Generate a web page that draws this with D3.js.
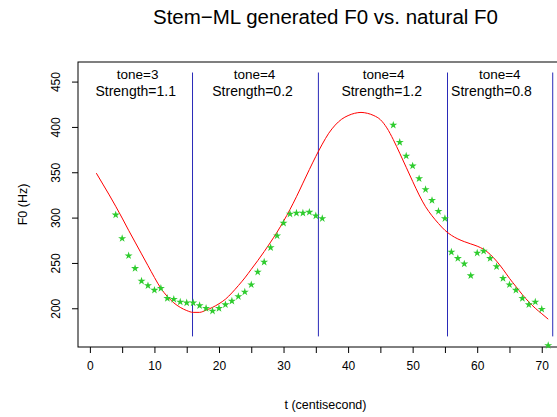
<!DOCTYPE html>
<html>
<head>
<meta charset="utf-8">
<script src="https://cdn.jsdelivr.net/npm/d3@7"></script>
<style>
    body { margin: 0; background: #fff; }
    svg { display: block; font-family: "Liberation Sans", Arial, sans-serif; }
</style>
</head>
<body>
<svg id="chart" width="557" height="417"></svg>
<script>
// natural F0 (green stars)
var naturalT = [4, 5, 6, 7, 8, 9, 10, 11, 12, 13, 14, 15, 16, 17, 18, 19, 20, 21, 22, 23, 24, 25, 26, 27, 28, 29, 30, 31, 32, 33, 34, 35, 36,
    47, 48, 49, 50, 51, 52, 53, 54, 55, 56, 57, 58, 59, 60, 61, 62, 63, 64, 65, 66, 67, 68, 69, 70, 71];
var naturalF0 = [303, 277, 258, 244, 230, 225, 220, 222, 211, 210, 207, 206, 206, 203, 200, 197, 200, 204, 208, 213, 218, 226, 240, 251, 267, 280, 294, 304, 305, 305, 306, 302, 299,
    402, 383, 368, 357, 343, 331, 319, 307, 299, 262, 255, 249, 236, 261, 263, 255, 246, 233, 226, 220, 211, 204, 207, 199, 159];

// Stem-ML generated F0 (red curve)
var modelT = [1, 2, 3, 4, 5, 6, 7, 8, 9, 10, 11, 12, 13, 14, 15, 16, 17, 18, 19, 20, 21, 22, 23, 24, 25, 26, 27, 28, 29, 30, 31, 32, 33, 34, 35, 36,
    37, 38, 39, 40, 41, 42, 43, 44, 45, 46, 47, 48, 49, 50, 51, 52, 53, 54, 55, 56, 57, 58, 59, 60, 61, 62, 63, 64, 65, 66, 67, 68, 69, 70, 71];
var modelF0 = [349, 337, 325, 312.5, 299.5, 286, 273, 260, 247, 234, 222, 213, 206, 201, 197.5, 195.5, 195.5, 198, 201, 205, 210, 217, 225, 233.5, 243, 252.5, 262.5, 273, 284, 296, 309, 323, 338, 353, 367.5, 381,
    393, 402, 408.5, 412.5, 415, 416, 415, 412.5, 408, 399, 386, 371, 355.5, 340, 325, 312, 302, 293.5, 286, 280.5, 276.5, 273.5, 271, 268.5, 265, 259.5, 252, 243, 233, 224, 215, 207, 200, 194, 188];

// syllable boundaries
var boundaries = [15.9, 35.4, 55.4, 71.7];
var toneLabels = ['tone=3', 'tone=4', 'tone=4', 'tone=4'];
var toneX = [7.4, 25.5, 45.5, 63.5];
var strengthLabels = ['Strength=1.1', 'Strength=0.2', 'Strength=1.2', 'Strength=0.8'];
var strengthX = [7.1, 25.2, 45.2, 62.2];

var xTicks = [0, 5, 10, 15, 20, 25, 30, 35, 40, 45, 50, 55, 60, 65, 70];
var yTicks = [200, 250, 300, 350, 400, 450];

var svg = d3.select('#chart');

var plotLeft = 78, plotRight = 573, plotTop = 62, plotBottom = 347;

var x = d3.scaleLinear()
    .domain([-1.84, 74.84])
    .range([plotLeft, plotRight]);

var y = d3.scaleLinear()
    .domain([157.3, 471.6])
    .range([plotBottom, plotTop]);

// frame
svg.append('rect')
    .attr('x', plotLeft)
    .attr('y', plotTop)
    .attr('width', plotRight - plotLeft)
    .attr('height', plotBottom - plotTop)
    .attr('fill', 'none')
    .attr('stroke', '#000')
    .attr('stroke-width', 1);

// x axis
var xAxis = d3.axisBottom(x)
    .tickValues(xTicks)
    .tickSize(6)
    .tickPadding(8)
    .tickFormat(function(d) { return d % 10 == 0 ? d : ''; });

var xg = svg.append('g')
    .attr('transform', 'translate(0,' + plotBottom + ')')
    .call(xAxis);
xg.select('.domain').remove();
xg.selectAll('text').attr('font-size', 12).attr('font-family', null).attr('fill', '#000');

// y axis
var yAxis = d3.axisLeft(y)
    .tickValues(yTicks)
    .tickSize(6)
    .tickPadding(0);

var yg = svg.append('g')
    .attr('transform', 'translate(' + plotLeft + ',0)')
    .call(yAxis);
yg.select('.domain').remove();
yg.selectAll('.tick text')
    .attr('font-size', 12)
    .attr('font-family', null)
    .attr('fill', '#000')
    .attr('x', null)
    .attr('dy', null)
    .attr('text-anchor', 'middle')
    .attr('transform', 'translate(-18,0) rotate(-90)');

// title and axis titles
svg.append('text')
    .attr('x', (plotLeft + plotRight) / 2)
    .attr('y', 24)
    .attr('text-anchor', 'middle')
    .attr('font-size', 20.5)
    .text('Stem\u2212ML generated F0 vs. natural F0');

svg.append('text')
    .attr('x', (plotLeft + plotRight) / 2)
    .attr('y', 409)
    .attr('text-anchor', 'middle')
    .attr('font-size', 12.5)
    .text('t (centisecond)');

svg.append('text')
    .attr('transform', 'translate(27,' + ((plotTop + plotBottom) / 2) + ') rotate(-90)')
    .attr('text-anchor', 'middle')
    .attr('font-size', 12.5)
    .text('F0 (Hz)');

// boundaries
svg.append('g').selectAll('line')
    .data(boundaries)
    .enter()
    .append('line')
    .attr('x1', function(d) { return x(d); })
    .attr('x2', function(d) { return x(d); })
    .attr('y1', y(169))
    .attr('y2', y(460))
    .attr('stroke', '#2a2ab8')
    .attr('stroke-width', 1);

// labels (tone line a little higher so the two lines do not touch)
svg.append('g').selectAll('text')
    .data(toneLabels)
    .enter()
    .append('text')
    .attr('x', function(d, i) { return x(toneX[i]); })
    .attr('y', y(452.5))
    .attr('text-anchor', 'middle')
    .attr('font-size', 13.5)
    .text(function(d) { return d; });

svg.append('g').selectAll('text')
    .data(strengthLabels)
    .enter()
    .append('text')
    .attr('x', function(d, i) { return x(strengthX[i]); })
    .attr('y', y(434.5))
    .attr('text-anchor', 'middle')
    .attr('font-size', 14)
    .text(function(d) { return d; });

// model curve
var line = d3.line()
    .x(function(d, i) { return x(modelT[i]); })
    .y(function(d) { return y(d); })
    .curve(d3.curveMonotoneX);

svg.append('path')
    .datum(modelF0)
    .attr('d', line)
    .attr('fill', 'none')
    .attr('stroke', '#ff0000')
    .attr('stroke-width', 1);

// natural points
var star = d3.symbol().type(d3.symbolStar).size(20);

svg.append('g').selectAll('path')
    .data(naturalF0)
    .enter()
    .append('path')
    .attr('d', star)
    .attr('transform', function(d, i) { return 'translate(' + x(naturalT[i]) + ',' + y(d) + ')'; })
    .attr('fill', '#2ecc2e');
</script>
</body>
</html>
